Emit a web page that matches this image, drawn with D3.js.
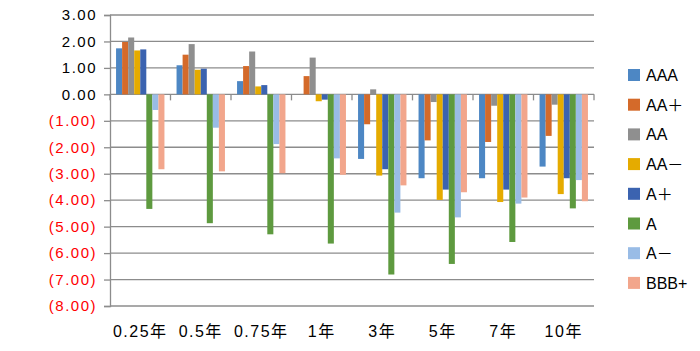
<!DOCTYPE html>
<html>
<head>
<meta charset="utf-8">
<script src="https://cdn.jsdelivr.net/npm/d3@7"></script>
<style>
  body { margin: 0; background: #fff; }
  svg { display: block; font-family: "Liberation Sans", "Noto Sans CJK SC", sans-serif; }
</style>
</head>
<body>
<div id="chart"></div>
<script>
(() => {
  const width = 700, height = 351;

  // 기간 카테고리
  const categories = ["0.25年", "0.5年", "0.75年", "1年", "3年", "5年", "7年", "10年"];
  const seriesNames = ["AAA", "AA＋", "AA", "AA－", "A＋", "A", "A－", "BBB+"];
  const seriesColors = ["#4D87C4", "#D46A2A", "#8F8F8F", "#E5AB00", "#3B63B0", "#5E9A3F", "#99BCE6", "#F2A68C"];

  // 각 시리즈 값 (카테고리 순서)
  const valAAA  = [1.74, 1.10, 0.50, 0.00, -2.44, -3.17, -3.17, -2.73];
  const valAAp  = [1.98, 1.50, 1.07, 0.69, -1.13, -1.74, -1.80, -1.57];
  const valAA   = [2.15, 1.90, 1.62, 1.39, 0.19, -0.29, -0.43, -0.39];
  const valAAm  = [1.66, 0.93, 0.30, -0.26, -3.07, -3.99, -4.07, -3.77];
  const valAp   = [1.70, 0.97, 0.35, -0.20, -2.83, -3.60, -3.60, -3.17];
  const valA    = [-4.33, -4.87, -5.29, -5.64, -6.81, -6.41, -5.58, -4.31];
  const valAm   = [-0.59, -1.26, -1.88, -2.42, -4.47, -4.65, -4.13, -3.24];
  const valBBBp = [-2.83, -2.91, -2.98, -3.04, -3.44, -3.70, -3.90, -4.04];

  const yTicks = [3, 2, 1, 0, -1, -2, -3, -4, -5, -6, -7, -8];

  const allSeries = [valAAA, valAAp, valAA, valAAm, valAp, valA, valAm, valBBBp];

  const margin = { top: 15, left: 110, right: 106, bottom: 45 };
  const plotW = width - margin.left - margin.right;

  const svg = d3.select("#chart").append("svg")
    .attr("width", width)
    .attr("height", height);

  const x0 = d3.scaleBand()
    .domain(categories)
    .range([margin.left, margin.left + plotW])
    .paddingInner(0)
    .paddingOuter(0);

  const gap = x0.bandwidth() * 0.1;
  const x1 = d3.scaleBand()
    .domain(d3.range(seriesNames.length))
    .range([gap, x0.bandwidth() - gap])
    .padding(0);

  const y = d3.scaleLinear()
    .domain([-8, 3])
    .range([306, 15]);

  // 격자선
  svg.append("g")
    .selectAll("line")
    .data(yTicks)
    .join("line")
    .attr("x1", margin.left)
    .attr("x2", margin.left + plotW)
    .attr("y1", d => y(d))
    .attr("y2", d => y(d))
    .attr("stroke", "#8C8C8C")
    .attr("stroke-width", 1.3);

  // 막대
  const groups = svg.append("g")
    .selectAll("g")
    .data(categories)
    .join("g")
    .attr("transform", d => `translate(${x0(d)},0)`);

  groups.selectAll("rect")
    .data((c, ci) => allSeries.map((vals, si) => ({ si, v: vals[ci] })))
    .join("rect")
    .attr("x", d => x1(d.si))
    .attr("width", x1.bandwidth())
    .attr("y", d => y(Math.max(0, d.v)))
    .attr("height", d => Math.abs(y(d.v) - y(0)))
    .attr("fill", d => seriesColors[d.si]);

  // y축
  const fmt = d3.format(".2f");
  const yAxis = d3.axisLeft(y)
    .tickValues(yTicks)
    .tickSize(6)
    .tickPadding(7)
    .tickFormat(d => d < 0 ? `(${fmt(-d)})` : fmt(d));

  const gy = svg.append("g")
    .attr("transform", `translate(${margin.left},0)`)
    .call(yAxis);
  gy.select(".domain").attr("stroke", "#8C8C8C").attr("stroke-width", 1.3);
  gy.selectAll(".tick line").attr("stroke", "#8C8C8C").attr("stroke-width", 1.3);
  gy.selectAll(".tick text")
    .attr("font-size", "15px")
    .attr("letter-spacing", "1.5px")
    .attr("font-family", "Liberation Sans, sans-serif")
    .attr("fill", d => d < 0 ? "#FF0000" : "#000");

  // x축 (0 선 위 눈금)
  svg.append("g")
    .selectAll("line")
    .data(d3.range(categories.length + 1))
    .join("line")
    .attr("x1", i => margin.left + i * x0.bandwidth())
    .attr("x2", i => margin.left + i * x0.bandwidth())
    .attr("y1", y(0))
    .attr("y2", y(0) + 6)
    .attr("stroke", "#8C8C8C")
    .attr("stroke-width", 1.3);

  svg.append("g")
    .selectAll("text")
    .data(categories)
    .join("text")
    .attr("x", d => x0(d) + x0.bandwidth() / 2)
    .attr("y", 337)
    .attr("text-anchor", "middle")
    .attr("font-size", "16px")
    .attr("letter-spacing", "1.5px")
    .attr("font-family", "Liberation Sans, Noto Sans CJK SC, sans-serif")
    .attr("fill", "#000")
    .text(d => d);

  // 범례
  const legend = svg.append("g")
    .selectAll("g")
    .data(seriesNames)
    .join("g")
    .attr("transform", (d, i) => `translate(628,${75 + i * 29.7})`);

  legend.append("rect")
    .attr("x", 0)
    .attr("y", -6)
    .attr("width", 12)
    .attr("height", 12)
    .attr("fill", (d, i) => seriesColors[i]);

  legend.append("text")
    .attr("x", 18)
    .attr("y", 6)
    .attr("font-size", "16px")
    .attr("font-family", "Liberation Sans, Noto Sans CJK SC, sans-serif")
    .attr("fill", "#000")
    .text(d => d);
})();
</script>
</body>
</html>
